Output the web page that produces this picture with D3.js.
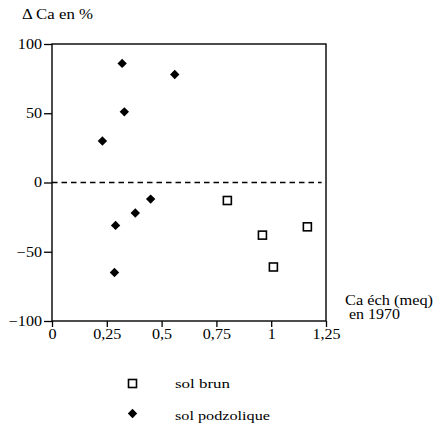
<!DOCTYPE html>
<html>
<head>
<meta charset="utf-8">
<script src="https://cdn.jsdelivr.net/npm/d3@7"></script>
<style>
  body { margin: 0; background: #fff; }
  svg { display: block; font-family: "Liberation Serif", "Times New Roman", Times, serif; }
</style>
</head>
<body>
<svg id="chart" width="441" height="425"></svg>
<script>
// sol brun (open squares)
const brunX = [0.80, 0.96, 1.165, 1.01];
const brunY = [-13, -38, -32, -61];
// sol podzolique (filled diamonds)
const podzX = [0.32, 0.33, 0.23, 0.56, 0.45, 0.38, 0.29, 0.285];
const podzY = [86, 51, 30, 78, -12, -22, -31, -65];

const xTicks = [0, 0.25, 0.5, 0.75, 1, 1.25];
const yTicks = [-100, -50, 0, 50, 100];

const svg = d3.select("#chart");

const x = d3.scaleLinear().domain([0, 1.25]).range([52, 326]);
const y = d3.scaleLinear().domain([-100, 100]).range([321, 44]);

const fmt = d => String(d).replace(".", ",");

// the scanned lettering is wider than Times, so widen each label a bit
function stretch(sel, k) {
    sel.each(function() {
        const w = this.getComputedTextLength();
        d3.select(this).attr("textLength", w * k).attr("lengthAdjust", "spacingAndGlyphs");
    });
}

// frame
svg.append("rect")
    .attr("x", x(0)).attr("y", y(100))
    .attr("width", x(1.25) - x(0)).attr("height", y(-100) - y(100))
    .attr("fill", "none").attr("stroke", "#000").attr("stroke-width", 1.4);

// axes
const xAxis = svg.append("g")
    .attr("transform", "translate(0," + y(-100) + ")")
    .call(d3.axisBottom(x).tickValues(xTicks).tickFormat(fmt).tickSize(6).tickPadding(2));

const yAxis = svg.append("g")
    .attr("transform", "translate(" + x(0) + ",0)")
    .call(d3.axisLeft(y).tickValues(yTicks).tickSize(8).tickPadding(2));

[xAxis, yAxis].forEach(a => {
    a.select(".domain").remove();
    a.selectAll("line").attr("stroke", "#000").attr("stroke-width", 1.3);
    a.selectAll("text")
        .attr("fill", "#000")
        .style("font-family", "'Liberation Serif', 'Times New Roman', serif")
        .style("font-size", "14px")
        .call(stretch, 1.15);
});

// zero line
svg.append("line")
    .attr("x1", x(0)).attr("x2", x(1.23))
    .attr("y1", y(0)).attr("y2", y(0))
    .attr("stroke", "#000").attr("stroke-width", 1.4)
    .attr("stroke-dasharray", "5.5,4");

// points
const diamond = d3.symbol().type(d3.symbolSquare).size(44);

svg.append("g").selectAll("path")
    .data(podzX.map((v, i) => [v, podzY[i]]))
    .enter().append("path")
    .attr("d", diamond)
    .attr("transform", d => "translate(" + x(d[0]) + "," + y(d[1]) + ") rotate(45)")
    .attr("fill", "#000");

svg.append("g").selectAll("rect")
    .data(brunX.map((v, i) => [v, brunY[i]]))
    .enter().append("rect")
    .attr("x", d => x(d[0]) - 4).attr("y", d => y(d[1]) - 4)
    .attr("width", 8).attr("height", 8)
    .attr("fill", "#fff").attr("stroke", "#000").attr("stroke-width", 1.6);

// titles
svg.append("text").attr("x", 22).attr("y", 19)
    .style("font-size", "14px").text("\u0394 Ca en %")
    .attr("textLength", 71).attr("lengthAdjust", "spacingAndGlyphs");

svg.append("text").attr("x", 345).attr("y", 305)
    .style("font-size", "14px").text("Ca éch (meq)")
    .attr("textLength", 88).attr("lengthAdjust", "spacingAndGlyphs");
svg.append("text").attr("x", 349).attr("y", 319)
    .style("font-size", "14px").text("en 1970")
    .attr("textLength", 51).attr("lengthAdjust", "spacingAndGlyphs");

// legend
const legend = svg.append("g");
legend.append("rect")
    .attr("x", 128.5).attr("y", 379.5).attr("width", 8).attr("height", 8)
    .attr("fill", "#fff").attr("stroke", "#000").attr("stroke-width", 1.6);
legend.append("text").attr("x", 175).attr("y", 388)
    .style("font-size", "13px").text("sol brun")
    .attr("textLength", 55).attr("lengthAdjust", "spacingAndGlyphs");
legend.append("path")
    .attr("d", diamond)
    .attr("transform", "translate(132.5,413.5) rotate(45)")
    .attr("fill", "#000");
legend.append("text").attr("x", 175).attr("y", 420)
    .style("font-size", "13px").text("sol podzolique")
    .attr("textLength", 95).attr("lengthAdjust", "spacingAndGlyphs");
</script>
</body>
</html>
